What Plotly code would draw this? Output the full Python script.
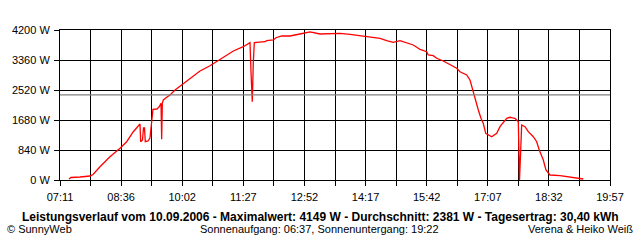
import plotly.graph_objects as go

# ---- data (minutes since midnight, power in W) ----
minutes = [443.5, 446.3, 458.9, 472.8, 477.0, 486.7, 500.6, 514.6, 523.9, 533.1,
           540.0, 542.4, 543.4, 545.9, 547.3, 548.7, 549.8, 553.6, 556.3, 558.7,
           559.5, 560.5, 566.1, 569.3, 571.7, 572.6, 573.5, 574.9, 579.6, 584.2,
           591.2, 600.5, 612.0, 626.0, 639.9, 653.8, 667.8, 672.4, 686.3, 695.6,
           697.0, 698.8, 700.2, 701.6, 716.5, 718.9, 728.1, 731.8, 739.8, 751.3,
           765.2, 774.6, 779.2, 793.1, 811.6, 821.0, 834.9, 853.4, 867.4, 876.7,
           886.0, 895.2, 904.5, 913.9, 923.0, 930.0, 932.4, 941.7, 943.9, 950.9,
           955.6, 964.8, 974.2, 983.5, 988.1, 997.4, 1002.0, 1004.4, 1009.0, 1013.6,
           1017.3, 1020.5, 1023.9, 1032.2, 1039.2, 1043.8, 1053.1, 1057.7, 1064.7, 1069.3,
           1071.0, 1074.0, 1078.6, 1083.2, 1090.2, 1094.9, 1098.5, 1104.1, 1107.8, 1113.4,
           1127.4, 1136.7, 1150.6, 1159.8]
power_w = [28, 70, 84, 112, 154, 372, 652, 888, 1072, 1352,
           1512, 1568, 1072, 1120, 1456, 1456, 1072, 1092, 1176, 1680,
           1960, 1980, 1988, 2052, 2148, 1140, 2156, 2240, 2316, 2380,
           2520, 2660, 2828, 3052, 3200, 3380, 3548, 3612, 3732, 3844,
           3032, 2192, 3268, 3844, 3872, 3900, 3920, 3984, 4032, 4032,
           4088, 4124, 4149, 4088, 4088, 4108, 4080, 4032, 4012, 3968,
           3900, 3856, 3900, 3844, 3780, 3688, 3660, 3592, 3500, 3480,
           3408, 3332, 3220, 3128, 3032, 2940, 2800, 2612, 2240, 1960,
           1728, 1588, 1308, 1212, 1308, 1492, 1728, 1756, 1728, 1632,
           0, 1540, 1492, 1352, 1212, 1072, 840, 560, 280, 140,
           120, 92, 64, 28]
average_w = 2381

x_tick_labels = ["07:11", "08:36", "10:02", "11:27", "12:52", "14:17",
                 "15:42", "17:07", "18:32", "19:57"]
y_tick_values = [0, 840, 1680, 2520, 3360, 4200]
y_tick_labels = ["0 W", "840 W", "1680 W", "2520 W", "3360 W", "4200 W"]

title_line = ("Leistungsverlauf vom 10.09.2006 - Maximalwert: 4149 W - "
              "Durchschnitt: 2381 W - Tagesertrag: 30,40 kWh")
footer_left = "© SunnyWeb"
footer_mid = "Sonnenaufgang: 06:37, Sonnenuntergang: 19:22"
footer_right = "Verena & Heiko Weiß"

# ---- axis helpers ----
def to_min(s):
    h, m = s.split(":")
    return int(h) * 60 + int(m)

t_start = to_min(x_tick_labels[0])
t_end = to_min(x_tick_labels[-1])
n_grid = 2 * (len(x_tick_labels) - 1)
grid_vals = [t_start + i * (t_end - t_start) / n_grid for i in range(n_grid + 1)]
grid_text = [x_tick_labels[i // 2] if i % 2 == 0 else "" for i in range(n_grid + 1)]

FONT = "Liberation Sans, Arial, sans-serif"

fig = go.Figure()
fig.add_trace(go.Scatter(x=minutes, y=power_w, mode="lines",
                         line=dict(color="#ff0000", width=1.3),
                         hoverinfo="skip", showlegend=False))

fig.add_shape(type="line", xref="x", yref="y", x0=t_start, x1=t_end,
              y0=average_w, y1=average_w, line=dict(color="#808080", width=1.3),
              layer="above")

fig.update_layout(
    width=640, height=240,
    margin=dict(l=60, r=30, t=30, b=60),
    paper_bgcolor="white", plot_bgcolor="white",
    font=dict(family=FONT, size=11, color="black"),
    xaxis=dict(range=[t_start, t_end], tickmode="array", tickvals=grid_vals,
               ticktext=grid_text, showgrid=True, gridcolor="black", gridwidth=1,
               ticks="outside", ticklen=5, tickcolor="black", tickwidth=1,
               showline=True, linecolor="black", linewidth=1, mirror=True,
               zeroline=False, ticklabelstandoff=2,
               tickfont=dict(size=11, family=FONT)),
    yaxis=dict(range=[0, y_tick_values[-1]], tickmode="array", tickvals=y_tick_values,
               ticktext=y_tick_labels, showgrid=True, gridcolor="black", gridwidth=1,
               ticks="outside", ticklen=5, tickcolor="black", tickwidth=1,
               showline=True, linecolor="black", linewidth=1, mirror=True,
               zeroline=False, ticklabelstandoff=2,
               tickfont=dict(size=11, family=FONT)),
)

fig.add_annotation(text="<b>" + title_line + "</b>", xref="paper", yref="paper",
                   x=(320 - 60) / 550, y=-(217 - 180) / 150, xanchor="center",
                   yanchor="middle", showarrow=False,
                   font=dict(size=12, family=FONT, color="black"))
fig.add_annotation(text=footer_left, xref="paper", yref="paper",
                   x=(5 - 60) / 550, y=-(229 - 180) / 150, xanchor="left",
                   yanchor="middle", showarrow=False, font=dict(size=11, family=FONT))
fig.add_annotation(text=footer_mid, xref="paper", yref="paper",
                   x=(319 - 60) / 550, y=-(229 - 180) / 150, xanchor="center",
                   yanchor="middle", showarrow=False, font=dict(size=11, family=FONT))
fig.add_annotation(text=footer_right, xref="paper", yref="paper",
                   x=(635 - 60) / 550, y=-(229 - 180) / 150, xanchor="right",
                   yanchor="middle", showarrow=False, font=dict(size=11, family=FONT))

fig.write_html("out.html", config={"displayModeBar": False})
